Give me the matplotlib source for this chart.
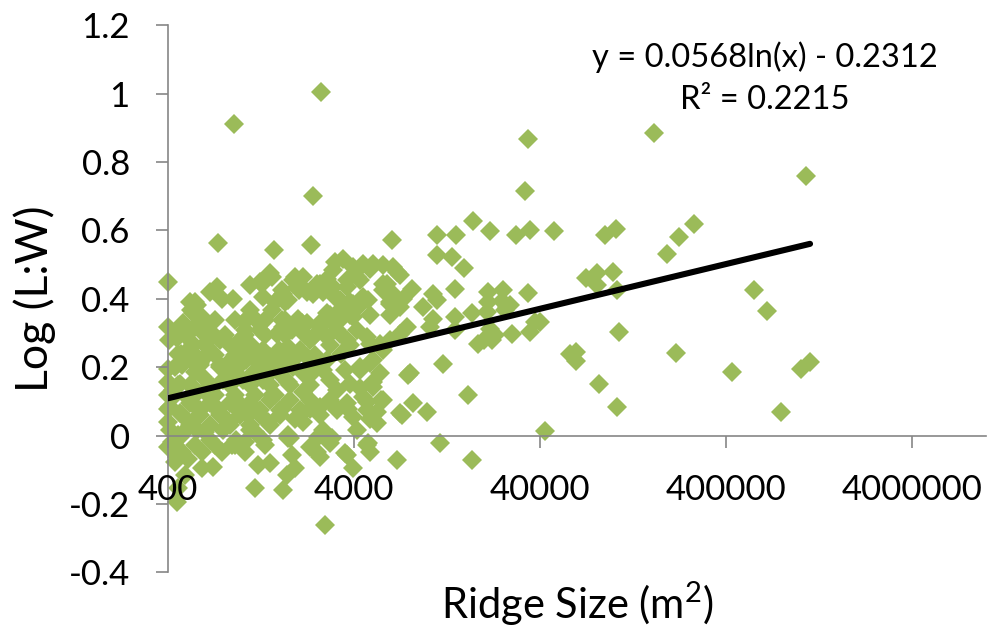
import numpy as np
import matplotlib.pyplot as plt
import matplotlib.ticker as ticker

plt.rcParams['font.family'] = ['Lato', 'DejaVu Sans']
plt.rcParams['axes.unicode_minus'] = False
plt.rcParams['mathtext.default'] = 'regular'

# ridge size (m2) and log(L:W)
ridge_size = [
    908, 2650, 2400, 34400, 33100, 743, 1490, 2340, 6380, 11200, 14100, 17400,
    21500, 29700, 35300, 47600, 164800, 1072000, 89400, 102600, 224400, 270400,
    191900, 70600, 80700, 99100, 81500, 103300, 106400, 62500, 62500, 82700,
    103800, 215300, 429500, 567600, 662300, 787200, 1012000, 1132000, 42600,
    13400, 15700, 14000, 21100, 25400, 21100, 24900, 27600, 34600, 14000, 17200,
    20700, 26000, 26500, 37600, 21500, 22900, 18600, 22000, 28200, 35300, 16500,
    14000, 11150, 400, 12000, 8000, 7070, 8340, 9840, 11600, 20000, 58000, 40000,
    17200, 3960, 3580, 2790,
    # dense cluster, above the trend line
    3160, 3510, 3960, 4490, 4870, 5740, 6790, 4130, 3660, 2850, 2130, 1890, 1410,
    1250, 1100, 731, 672, 898, 523, 571, 400, 436, 405, 446, 400, 436, 484, 535,
    592, 1031, 1103, 1058, 1296, 1503, 1707, 1670, 1974, 2240, 2004, 1670, 1535,
    1250, 2524, 2735, 3160, 3364, 3804, 3804, 4220, 4770, 5740, 6500, 7370, 6250,
    8170, 9430, 10670, 10670, 10250, 7680, 7070, 6250, 5520, 4680, 4130, 3660,
    3230, 2970, 2620, 2320, 2050, 1814, 1413, 1296, 1103, 975, 762, 701, 645, 992,
    645, 547, 547, 484, 592,
    # dense cluster, below the trend line
    4320, 4870, 5520, 5080, 5740, 4490, 3804, 3230, 3660, 3230, 3960, 4680, 5300,
    4130, 2735, 2410, 2130, 1890, 1670, 1470, 1296, 1150, 1016, 898, 792, 701,
    620, 547, 466, 427, 410, 464, 523, 594, 672, 762, 861, 975, 1103, 1250, 1413,
    1600, 1814, 2050, 2320, 2620, 2970, 410, 466, 571, 672, 792, 933, 1103, 1296,
    1814, 2320, 2735, 2970, 2620, 4770, 400, 446,
    418, 474, 436, 514, 606, 701, 606, 494, 454, 446, 778, 880, 1036, 1223, 1413,
    1174, 1670, 1744, 1854, 1925, 1776, 1330, 1036, 1925, 1635, 1385, 1776,
    3230, 3710, 4680, 5580, 4870, 5300, 7220, 7820, 5080, 4320, 2130, 2320, 2130,
    2560, 3040, 2520, 3660, 4680, 4870, 6790,
    778, 559, 535, 606, 559, 1174, 1036, 1276, 1443, 1635, 1776, 1443, 1635, 1854,
    2105, 2020, 1925, 454, 535, 633, 880, 996, 1174, 1330, 1572, 1776, 2020,
    3080, 5080, 6500, 7070, 2620, 2410, 3080, 3660, 4320, 3360, 3960, 4490, 3960,
    3360, 2850, 2620, 2240, 2410, 2850, 3360, 5740, 6250, 7070, 6000, 11150, 5740,
    4870, 5520, 2240, 2850, 3420, 4320, 5080,
    400, 400, 400, 400, 454, 514, 582, 660, 743, 847, 953, 1083, 1174, 514, 633,
    454, 559, 1776, 2105, 1443,
    470, 620, 850, 1050, 1350, 760, 560,
    # filling between the marks of the solid core
    474, 594, 762, 975, 1250, 1600,
    523, 672, 861, 1103, 1413, 1814, 2320,
    436, 559, 717, 917, 1174, 1503,
    474, 594, 762, 975, 1250, 1600, 2050, 2620,
    523, 672, 861, 1103, 1413,
    436, 559, 717, 917,
    494, 633, 811, 1038, 1330, 1700, 2180,
    559, 717, 917, 1174, 1503, 1925, 2460,
    717, 917, 1330, 1700,
    2970, 3800, 4870, 6250, 2970, 3800, 2320, 2970, 3580,
]
log_lw = [
    0.911, 1.004, 0.699, 0.868, 0.714, 0.564, 0.542, 0.556, 0.573, 0.585, 0.587, 0.627,
    0.598, 0.587, 0.600, 0.598, 0.884, 0.759, 0.587, 0.605, 0.582, 0.620,
    0.530, 0.462, 0.474, 0.478, 0.439, 0.425, 0.303, 0.245, 0.218, 0.150,
    0.084, 0.242, 0.186, 0.425, 0.364, 0.068, 0.196, 0.214, 0.014,
    0.522, 0.491, 0.430, 0.420, 0.425, 0.391, 0.394, 0.381, 0.417, 0.347, 0.357,
    0.361, 0.366, 0.376, 0.332, 0.313, 0.293, 0.269, 0.279, 0.298, 0.303, 0.118,
    0.308, 0.527, 0.449, 0.208, 0.182, 0.065, 0.094, 0.070, -0.023, 0.279, 0.240, 0.332,
    -0.072, -0.096, -0.052, -0.261,
    0.507, 0.517, 0.493, 0.503, 0.488, 0.498, 0.478, 0.464, 0.454, 0.459, 0.464, 0.454, 0.474,
    0.449, 0.439, 0.434, 0.420, 0.400, 0.391, 0.381, 0.318, 0.298, 0.279, 0.284, 0.196, 0.201, 0.211, 0.220,
    0.211, 0.332, 0.366, 0.342, 0.405, 0.391, 0.391, 0.415, 0.434, 0.420, 0.342, 0.318, 0.298,
    0.308, 0.444, 0.420, 0.405, 0.366, 0.391, 0.357, 0.376, 0.396, 0.444, 0.415, 0.400, 0.391,
    0.430, 0.376, 0.415, 0.342, 0.318, 0.318, 0.298, 0.279, 0.264, 0.288, 0.308, 0.279,
    0.308, 0.337, 0.318, 0.279, 0.250, 0.230, 0.230, 0.250, 0.269, 0.279, 0.279, 0.298, 0.318, 0.240,
    0.259, 0.269, 0.357, 0.328, 0.337,
    0.191, 0.211, 0.182, 0.142, 0.104, 0.113, 0.152, 0.133, 0.094, 0.074, 0.055, 0.074, 0.036,
    0.016, 0.191, 0.211, 0.182, 0.201, 0.172, 0.191, 0.162, 0.182, 0.162, 0.182, 0.162, 0.142,
    0.172, 0.142, 0.152, 0.133, 0.084, 0.065, 0.094, 0.074, 0.094, 0.065, 0.094, 0.070, 0.094, 0.074, 0.104,
    0.074, 0.104, 0.074, 0.104, 0.084, 0.104, 0.016, -0.003, 0.016, -0.013, 0.016, -0.013, 0.016, -0.013,
    -0.008, -0.033, 0.016, -0.023, -0.062, -0.023, -0.033, -0.062,
    -0.018, -0.047, -0.076, -0.067, -0.047, -0.091, -0.096, -0.115, -0.154, -0.193, -0.047, -0.028, -0.047, -0.086, -0.081,
    -0.154, -0.159, -0.115, -0.057, -0.096, -0.008, -0.028, -0.018, 0.050, 0.079, 0.040, 0.001,
    0.079, 0.079, 0.099, 0.104, 0.050, 0.070, 0.060, 0.177, 0.157, 0.138, 0.128, 0.079, 0.040,
    -0.003, -0.008, -0.047, -0.057, -0.028, -0.047, -0.072,
    0.400, 0.391, 0.366, 0.347, 0.318, 0.342, 0.308, 0.444, 0.464, 0.425, 0.396, 0.366, 0.337, 0.308,
    0.328, 0.425, 0.464, 0.240, 0.259, 0.269, 0.259, 0.269, 0.250, 0.240, 0.250, 0.259, 0.240,
    0.483, 0.503, 0.493, 0.469, 0.444, 0.415, 0.434, 0.434, 0.454, 0.396, 0.386, 0.405, 0.347,
    0.337, 0.357, 0.328, 0.328, 0.288, 0.288, 0.298, 0.425, 0.386, 0.376, 0.444, 0.396, 0.250,
    0.269, 0.269, 0.230, 0.220, 0.240, 0.201, 0.220,
    0.079, 0.040, 0.118, 0.157, 0.147, 0.109, 0.079, 0.118, 0.079, 0.040, 0.099, 0.060, 0.011, 0.021, 0.011,
    0.001, 0.050, 0.157, 0.070, 0.118,
    0.240, 0.225, 0.215, 0.220, 0.205, 0.200, 0.185,
    0.206, 0.206, 0.206, 0.206, 0.206, 0.206,
    0.147, 0.147, 0.147, 0.147, 0.147, 0.147, 0.147,
    0.118, 0.118, 0.118, 0.118, 0.118, 0.118,
    0.060, 0.060, 0.060, 0.060, 0.060, 0.060, 0.060, 0.060,
    0.031, 0.031, 0.031, 0.031, 0.031,
    -0.028, -0.028, -0.028, -0.028,
    0.293, 0.293, 0.293, 0.293, 0.293, 0.293, 0.293,
    0.235, 0.235, 0.235, 0.235, 0.235, 0.235, 0.235,
    0.337, 0.337, 0.337, 0.337,
    0.352, 0.352, 0.352, 0.352, 0.264, 0.264, 0.177, 0.162, 0.191,
]

# logarithmic trend line as reported on the chart
fit_slope = 0.0568
fit_intercept = -0.2312
fit_r2 = 0.2215

x_ticks = [400, 4000, 40000, 400000, 4000000]
y_ticks = [-0.4, -0.2, 0, 0.2, 0.4, 0.6, 0.8, 1, 1.2]

fig = plt.figure(figsize=(9.97, 6.27), dpi=100)
ax = fig.add_axes([0.1685, 0.087, 0.8205, 0.873])

ax.plot(ridge_size, log_lw, linestyle='none', marker='D', markersize=10.3,
        color='#9BBB59', markeredgewidth=0, clip_on=False, zorder=2)

xs = np.geomspace(min(ridge_size), max(ridge_size), 200)
ax.plot(xs, fit_slope * np.log(xs) + fit_intercept, color='black',
        linewidth=4.4, solid_capstyle='round', zorder=3)

ax.set_xscale('log')
ax.set_xlim(400, 1e7)
ax.set_ylim(-0.4, 1.2)

ax.xaxis.set_major_locator(ticker.FixedLocator(x_ticks))
ax.xaxis.set_minor_locator(ticker.NullLocator())
ax.xaxis.set_major_formatter(ticker.FuncFormatter(lambda v, p: f'{int(round(v))}'))
ax.yaxis.set_major_locator(ticker.FixedLocator(y_ticks))
ax.yaxis.set_major_formatter(ticker.FuncFormatter(lambda v, p: f'{v:g}'))

for side in ['top', 'right']:
    ax.spines[side].set_visible(False)
ax.spines['bottom'].set_position(('data', 0))
for side in ['left', 'bottom']:
    ax.spines[side].set_color('#868686')
    ax.spines[side].set_linewidth(1.2)

ax.tick_params(axis='both', direction='out', length=8.5, width=1.2,
               color='#868686', labelsize=25, pad=19)
ax.set_axisbelow(False)

ax.set_xlabel('Ridge Size (m$^2$)', fontsize=30, va='center')
ax.xaxis.set_label_coords(0.5, -0.057)
ax.set_ylabel('Log (L:W)', fontsize=32, va='center')
ax.yaxis.set_label_coords(-0.163, 0.5)

fig.text(0.767, 0.909, f'y = {fit_slope}ln(x) - {abs(fit_intercept)}',
         fontsize=23.5, ha='center', va='center')
fig.text(0.767, 0.840, f'R² = {fit_r2}', fontsize=23.5, ha='center', va='center')

plt.savefig('out.png', dpi=100)
plt.close()
